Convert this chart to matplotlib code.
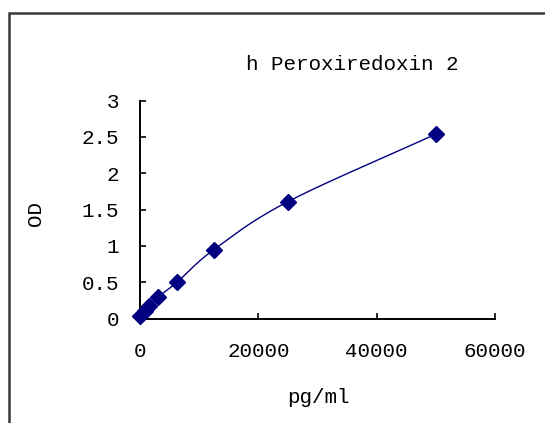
import matplotlib
matplotlib.use("Agg")
import matplotlib.pyplot as plt
import numpy as np

conc = [0, 781.25, 1562.5, 3125, 6250, 12500, 25000, 50000]
od = [0.04, 0.10, 0.17, 0.30, 0.50, 0.95, 1.61, 2.54]
title = "h Peroxiredoxin 2"
xlabel = "pg/ml"
ylabel = "OD"
xticks = [0, 20000, 40000, 60000]
yticks = [0, 0.5, 1, 1.5, 2, 2.5, 3]
ytick_labels = ["0", "0.5", "1", "1.5", "2", "2.5", "3"]

W, H = 545, 423
fig = plt.figure(figsize=(W / 100, H / 100), dpi=100)
fig.patch.set_facecolor("white")

# outer frame (extends beyond right/bottom edges)
frame = plt.Rectangle((9 / W, -0.1), 1.2, (H - 13) / H + 0.1, transform=fig.transFigure,
                      fill=False, edgecolor="#3a3a3a", linewidth=1.8)
fig.add_artist(frame)

ax = fig.add_axes([140 / W, 1 - 318.5 / H, 355 / W, 217.8 / H])
ax.set_xlim(0, 60000)
ax.set_ylim(0, 3)

# smooth line (Catmull-Rom in screen-like coordinates)
sx, sy = 355 / 60000, 217.8 / 3
P = np.column_stack([np.array(conc) * sx, np.array(od) * sy])
Pe = np.vstack([P[0] - (P[1] - P[0]), P, P[-1] + (P[-1] - P[-2])])
curve = []
for i in range(1, len(Pe) - 2):
    p0, p1, p2, p3 = Pe[i - 1], Pe[i], Pe[i + 1], Pe[i + 2]
    t = np.linspace(0, 1, 30)[:, None]
    seg = 0.5 * ((2 * p1) + (-p0 + p2) * t + (2 * p0 - 5 * p1 + 4 * p2 - p3) * t ** 2
                 + (-p0 + 3 * p1 - 3 * p2 + p3) * t ** 3)
    curve.append(seg)
curve = np.vstack(curve)
ax.plot(curve[:, 0] / sx, curve[:, 1] / sy, color="#000080", linewidth=1.0, clip_on=False)
ax.plot(conc, od, linestyle="none", marker="D", markersize=8.5, color="#000080",
        markeredgecolor="#000080", clip_on=False, zorder=3)

for s in ["top", "right"]:
    ax.spines[s].set_visible(False)
for s in ["left", "bottom"]:
    ax.spines[s].set_linewidth(1.4)
    ax.spines[s].set_color("black")

font = "Liberation Mono"
ax.set_xticks(xticks)
ax.set_xticklabels([str(v) for v in xticks], fontfamily=font, fontsize=15)
ax.set_yticks(yticks)
ax.set_yticklabels(ytick_labels, fontfamily=font, fontsize=15)
ax.tick_params(axis="x", direction="in", length=4, width=1.2, pad=17)
ax.tick_params(axis="y", direction="in", length=4, width=1.2, pad=15)

fig.text(352.5 / W, 1 - 65 / H, title, ha="center", va="center", fontfamily=font, fontsize=15)
fig.text(318 / W, 1 - 397 / H, xlabel, ha="center", va="center", fontfamily=font, fontsize=15)
fig.text(35 / W, 1 - 213 / H, ylabel, ha="center", va="center", rotation=90,
         fontfamily=font, fontsize=15)

fig.savefig("out.png", dpi=100)
